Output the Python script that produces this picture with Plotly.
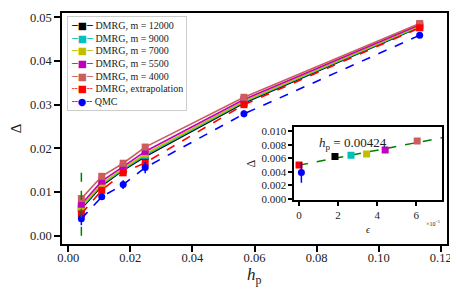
import plotly.graph_objects as go

# ---------------- data ----------------
hp = [0.00424, 0.0108, 0.0177, 0.0248, 0.0566, 0.1132]
m_labels = ["DMRG, m = 12000", "DMRG, m = 9000", "DMRG, m = 7000",
            "DMRG, m = 5500", "DMRG, m = 4000"]
d_12000 = [0.0062, 0.0114, 0.0150, 0.0181, 0.0304, 0.0478]
d_9000 = [0.0064, 0.0117, 0.0152, 0.0184, 0.0306, 0.0479]
d_7000 = [0.0066, 0.0119, 0.0154, 0.0187, 0.0308, 0.0481]
d_5500 = [0.0072, 0.0125, 0.0158, 0.0193, 0.0312, 0.0483]
d_4000 = [0.0085, 0.0136, 0.0166, 0.0203, 0.0317, 0.0486]
extrap_label = "DMRG, extrapolation"
d_extrap = [0.0050, 0.0104, 0.0144, 0.0167, 0.0300, 0.0476]
d_extrap_err = [0.0003, 0.0003, 0.0003, 0.0003, 0.0003, 0.0003]
qmc_label = "QMC"
qmc = [0.0039, 0.0089, 0.0117, 0.0156, 0.0279, 0.0459]
qmc_err = [0.0015, 0.0007, 0.0010, 0.0013, 0.0008, 0.0006]

# vertical guide at hp = 0.00424
guide_x = [0.00424, 0.00424]
guide_y = [0.0, 0.0148]

# inset: gap vs truncation error (units of 1e-5) at hp = 0.00424
eps = [1.84, 2.66, 3.46, 4.41, 6.05]
eps_delta = [0.00626, 0.00646, 0.00665, 0.00723, 0.00854]
extrap_eps = [0.0]
extrap_val = [0.0050]
qmc_eps = [0.12]
qmc_val = [0.0039]
qmc_val_err = [0.0015]
fit_eps = [0.0, 7.4]
fit_val = [0.0050, 0.00907]

colors = ["#000000", "#00BFBF", "#BFBF00", "#BF00BF", "#CD5C5C"]
series = [d_12000, d_9000, d_7000, d_5500, d_4000]

FONT = "Liberation Serif"
TXT = "#222222"

fig = go.Figure()

for lab, ys, c in zip(m_labels, series, colors):
    fig.add_trace(go.Scatter(
        x=hp, y=ys, mode="lines+markers", name=lab, showlegend=False,
        line=dict(color=c, width=1.6),
        marker=dict(symbol="square", size=7, color=c),
        xaxis="x", yaxis="y"))

fig.add_trace(go.Scatter(
    x=hp, y=d_extrap, mode="lines+markers", name=extrap_label, showlegend=False,
    line=dict(color="#FF0000", width=1.6, dash="dash"),
    marker=dict(symbol="square", size=7, color="#FF0000"),
    error_y=dict(type="data", array=d_extrap_err, color="#FF0000",
                 thickness=1.5, width=0),
    xaxis="x", yaxis="y"))

fig.add_trace(go.Scatter(
    x=hp, y=qmc, mode="lines+markers", name=qmc_label, showlegend=False,
    line=dict(color="#0000FF", width=1.6, dash="dash"),
    marker=dict(symbol="circle", size=7, color="#0000FF"),
    error_y=dict(type="data", array=qmc_err, color="#0000FF",
                 thickness=1.5, width=0),
    xaxis="x", yaxis="y"))

fig.add_trace(go.Scatter(
    x=guide_x, y=guide_y, mode="lines", showlegend=False,
    line=dict(color="#008000", width=1.5, dash="dash"),
    xaxis="x", yaxis="y"))

# ---- inset ----
fig.add_trace(go.Scatter(
    x=fit_eps, y=fit_val, mode="lines", showlegend=False,
    line=dict(color="#008000", width=1.5, dash="dash"),
    xaxis="x2", yaxis="y2"))
fig.add_trace(go.Scatter(
    x=eps, y=eps_delta, mode="markers", showlegend=False,
    marker=dict(symbol="square", size=7, color=colors),
    xaxis="x2", yaxis="y2"))
fig.add_trace(go.Scatter(
    x=extrap_eps, y=extrap_val, mode="markers", showlegend=False,
    marker=dict(symbol="square", size=7, color="#FF0000"),
    xaxis="x2", yaxis="y2"))
fig.add_trace(go.Scatter(
    x=qmc_eps, y=qmc_val, mode="markers", showlegend=False,
    marker=dict(symbol="circle", size=7, color="#0000FF"),
    error_y=dict(type="data", array=qmc_val_err, color="#0000FF",
                 thickness=1.5, width=0),
    xaxis="x2", yaxis="y2"))

# ---- compact legend (text with coloured line/marker glyphs) ----
legend_items = [(lab, c, "─■─") for lab, c in zip(m_labels, colors)]
legend_items.append((extrap_label, "#FF0000", "╌■╌"))
legend_items.append((qmc_label, "#0000FF", "╌●╌"))
legend_lines = []
for lab, c, glyph in legend_items:
    legend_lines.append(
        f"<span style='font-family:DejaVu Sans;color:{c}'>{glyph}</span>"
        f" <span style='font-size:10px'>{lab}</span>")
legend_text = "<br>".join(legend_lines)

axis_common = dict(showline=True, linecolor="black", linewidth=1.5,
                   mirror=True, ticks="outside", tickcolor="black",
                   tickwidth=1.5, showgrid=False, zeroline=False)

# page body has an 8px default margin; margins compensate for it
fig.update_layout(
    width=458, height=290,
    margin=dict(l=46, r=19, t=3, b=54),
    paper_bgcolor="white", plot_bgcolor="white",
    font=dict(family=FONT, color=TXT, size=12),
    showlegend=False,
    xaxis=dict(range=[-0.002, 0.122], tickvals=[0, 0.02, 0.04, 0.06, 0.08, 0.10, 0.12],
               ticktext=["0.00", "0.02", "0.04", "0.06", "0.08", "0.10", "0.12"],
               ticklen=6, tickfont=dict(size=12.5, family=FONT),
               ticklabelstandoff=-5,
               **axis_common),
    yaxis=dict(range=[-0.0019, 0.051], tickvals=[0, 0.01, 0.02, 0.03, 0.04, 0.05],
               ticktext=["0.00", "0.01", "0.02", "0.03", "0.04", "0.05"],
               ticklen=6, tickfont=dict(size=12.5, family=FONT),
               title=dict(text="Δ", font=dict(size=15, family=FONT), standoff=8),
               **axis_common),
    xaxis2=dict(domain=[0.603, 0.987], anchor="y2", range=[-0.25, 7.32],
                tickvals=[0, 2, 4, 6], ticklen=4,
                tickfont=dict(size=11, family=FONT),
                title=dict(text="<i>ϵ</i>", font=dict(size=10, family=FONT), standoff=6),
                **axis_common),
    yaxis2=dict(domain=[0.1886, 0.507], anchor="x2", range=[-0.0002, 0.01063],
                tickvals=[0, 0.002, 0.004, 0.006, 0.008, 0.010],
                ticktext=["0.000", "0.002", "0.004", "0.006", "0.008", "0.010"],
                ticklen=4, tickfont=dict(size=11, family=FONT),
                title=dict(text="Δ", font=dict(size=12, family=FONT), standoff=3),
                **axis_common),
    annotations=[
        dict(text="<i>h</i><sub>p</sub>", x=0.5, y=-0.138, xref="paper", yref="paper",
             xanchor="center", yanchor="middle", showarrow=False,
             font=dict(size=17, family=FONT, color=TXT)),
        dict(text="<i>h</i><sub>p</sub> = 0.00424", x=2.75, y=0.0082,
             xref="x2", yref="y2", showarrow=False,
             font=dict(size=13, family=FONT, color=TXT)),
        dict(text="×10<sup>−5</sup>", x=0.987, y=0.09, xref="paper", yref="paper",
             xanchor="right", yanchor="middle", showarrow=False,
             font=dict(size=6, family=FONT, color=TXT)),
        dict(text=legend_text, x=0.013, y=0.985, xref="paper", yref="paper",
             xanchor="left", yanchor="top", align="left", showarrow=False,
             bgcolor="rgba(255,255,255,0.8)", bordercolor="#CCCCCC",
             borderwidth=1, borderpad=3,
             font=dict(size=9.75, family=FONT, color=TXT)),
    ],
)

fig.write_html("out.html")
